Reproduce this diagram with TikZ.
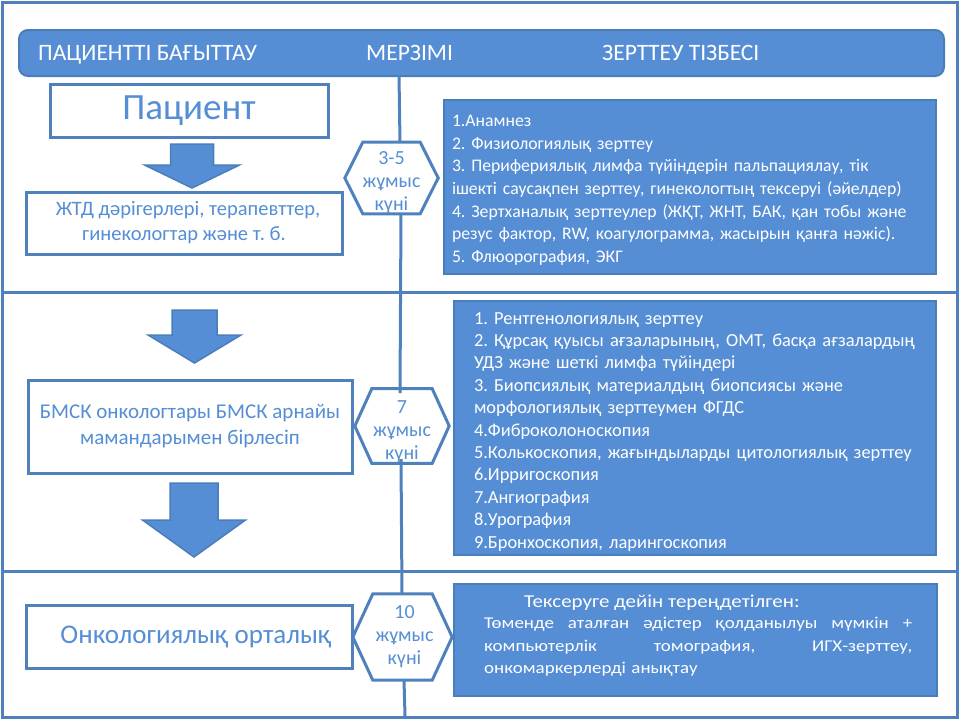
\documentclass[tikz,border=0pt]{standalone}
\usepackage{fontspec}
\setmainfont{Carlito}
\newfontfamily\widefont[FakeStretch=1.15]{Carlito}
\usepackage{tikz}
\usetikzlibrary{calc}
\definecolor{boxblue}{HTML}{558ED5}
\definecolor{lineblue}{HTML}{4F81BD}
\definecolor{edgeblue}{HTML}{4A7EBB}
\tikzstyle{frame}=[line width=3pt, color=lineblue]
\tikzstyle{whitebox}=[draw=lineblue, line width=3pt, fill=white, text=boxblue, align=center, inner sep=0pt]
\tikzstyle{bluebox}=[draw=edgeblue, line width=2pt, fill=boxblue, text=white, align=left, anchor=north west, inner ysep=0pt]
\tikzstyle{hexa}=[text=boxblue, align=center, inner sep=0pt, font=\fontsize{20}{23}\selectfont]
\tikzstyle{blockarrow}=[fill=boxblue, draw=edgeblue, line width=1.5pt, line join=miter]
\tikzstyle{headtext}=[text=white, anchor=base west, inner sep=0pt, font=\fontsize{23.5}{27}\selectfont]

\begin{document}
\frenchspacing
\begin{tikzpicture}[x=1pt,y=-1pt]
    \useasboundingbox (0,0) rectangle (960,720);
    % outer frame and the two dividing lines
    \draw[frame] (2,2) rectangle (957,717);
    \foreach \y in {292, 571}{
      \draw[frame] (2,\y) -- (957,\y);
    }

    % header bar
    \node[fill=boxblue, draw=edgeblue, line width=2pt, rounded corners=9pt,
          minimum width=925pt, minimum height=46pt, anchor=north west] (head) at (18,29) {};
    \node[headtext] (hpat) at (38,60.5) {ПАЦИЕНТТІ БАҒЫТТАУ};
    \node[headtext] (hterm) at (366,60.5) {МЕРЗІМІ};
    \node[headtext] (hlist) at (602,60.5) {ЗЕРТТЕУ ТІЗБЕСІ};

    % left column
    \node[whitebox, minimum width=278pt, minimum height=53pt, font=\fontsize{37}{42}\selectfont]
      (pat) at (189,110.5) {Пациент};
    \node[whitebox, minimum width=316pt, minimum height=62pt, font=\fontsize{20.5}{25}\selectfont]
      (gp) at (184,223) {\hspace*{8pt}ЖТД дәрігерлері, терапевттер,\\гинекологтар  және т. б.};
    \node[whitebox, minimum width=324pt, minimum height=93pt, font=\fontsize{21}{26}\selectfont]
      (bmsk) at (190,426.5) {БМСК онкологтары БМСК арнайы\\мамандарымен  бірлесіп};
    \node[whitebox, minimum width=326pt, minimum height=63pt, font=\fontsize{27}{32}\selectfont]
      (onko) at (189,636.5) {\hspace*{14pt}Онкологиялық орталық};

    % block arrows
    \foreach \cx/\top/\neck/\tip/\sw/\hw in {192/144/165/188/21.5/47.5, 194.5/310/335/363/22.5/46.5, 194/483/520/557/24/51.5}{
      \draw[blockarrow] (\cx-\sw,\top) -- (\cx+\sw,\top) -- (\cx+\sw,\neck) -- (\cx+\hw,\neck)
        -- (\cx,\tip) -- (\cx-\hw,\neck) -- (\cx-\sw,\neck) -- cycle;
    }

    % hexagons with the terms
    \node[hexa, minimum width=93pt, minimum height=70pt] (hex1) at (391.5,178) {\rule{0pt}{22pt}3-5\\жұмыс\\күні};
    \node[hexa, minimum width=94pt, minimum height=66pt] (hex2) at (402,426) {\rule{0pt}{25pt}7\\жұмыс\\күні};
    \node[hexa, minimum width=99pt, minimum height=86pt] (hex3) at (402.5,637) {\hspace*{4pt}10\\\hspace*{4pt}жұмыс\\\hspace*{4pt}күні};
    \foreach \h/\d in {hex1/18, hex2/17, hex3/20}{
      \draw[frame] (\h.west) -- ([xshift=\d pt]\h.north west) -- ([xshift=-\d pt]\h.north east)
        -- (\h.east) -- ([xshift=-\d pt]\h.south east) -- ([xshift=\d pt]\h.south west) -- cycle;
    }

    % middle line, broken by the hexagons
    \coordinate (l0) at (399,75);
    \coordinate (l1) at (400,143);
    \coordinate (l2) at (401,213);
    \coordinate (l3) at (400,393);
    \coordinate (l4) at (401,459);
    \coordinate (l5) at (402,594);
    \coordinate (l6) at (404,680);
    \coordinate (l7) at (405,716);
    \foreach \a/\b in {l0/l1, l2/l3, l4/l5, l6/l7}{
      \draw[frame] (\a) -- (\b);
    }

    % right column
    \node[bluebox, minimum width=492pt, minimum height=174pt, inner xsep=8pt, text width=476pt,
          font=\fontsize{17.7}{22.7}\selectfont] (exam) at (443,99) {%
      \rule{0pt}{18pt}1.Анамнез\\
      2. Физиологиялық зерттеу\\
      3. Перифериялық лимфа түйіндерін пальпациялау, тік\\
      ішекті саусақпен зерттеу, гинекологтың тексеруі (әйелдер)\\
      4. Зертханалық зерттеулер (ЖҚТ, ЖНТ, БАК, қан тобы және\\
      резус фактор, RW, коагулограмма, жасырын қанға нәжіс).\\
      5. Флюорография, ЭКГ};
    \node[bluebox, minimum width=482pt, minimum height=254pt, inner xsep=20pt, text width=442pt,
          font=\fontsize{18.4}{22.4}\selectfont] (spec) at (453,300) {%
      \rule{0pt}{19pt}1. Рентгенологиялық зерттеу\\
      2. Құрсақ қуысы ағзаларының, ОМТ, басқа ағзалардың\\
      УДЗ және шеткі лимфа түйіндері\\
      3. Биопсиялық материалдың биопсиясы және\\
      морфологиялық зерттеумен ФГДС\\
      4.Фиброколоноскопия\\
      5.Колькоскопия, жағындыларды цитологиялық зерттеу\\
      6.Ирригоскопия\\
      7.Ангиография\\
      8.Урография\\
      9.Бронхоскопия, ларингоскопия};
    \node[bluebox, minimum width=483pt, minimum height=112pt] (deep) at (453,583) {};
    \node[text=white, anchor=west, inner sep=0pt, font=\widefont\fontsize{18.2}{22}\selectfont]
      (deeptitle) at (524,603) {Тексеруге дейін тереңдетілген:};
    \node[text=white, anchor=north west, inner sep=0pt, align=left, text width=428pt,
          font=\widefont\fontsize{16.5}{22.5}\selectfont] (deepbody) at (484,617) {%
      \makebox[428pt]{Төменде\hfill аталған\hfill әдістер\hfill қолданылуы\hfill мүмкін\hfill +}\\
      \makebox[428pt]{компьютерлік\hfill томография,\hfill ИГХ-зерттеу,}\\
      онкомаркерлерді анықтау};
  \end{tikzpicture}
\end{document}
